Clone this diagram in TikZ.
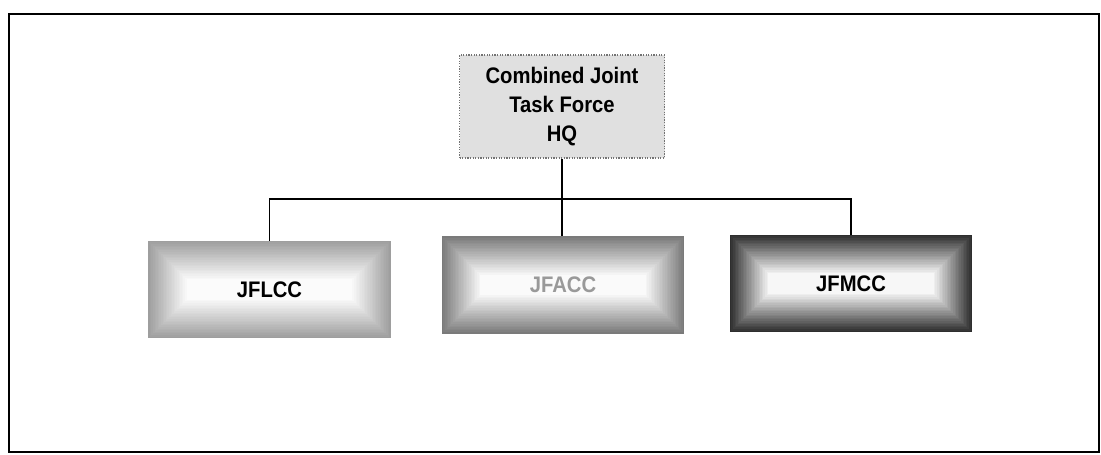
\documentclass[tikz,border=0pt]{standalone}
\usepackage{fontspec}
\setmainfont{Liberation Sans}[FakeStretch=0.9]
\usepackage{tikz}
\usetikzlibrary{backgrounds,positioning,calc}

\tikzset{
  cmdbox/.style={minimum width=60.5mm, minimum height=24.2mm, inner sep=0pt,
    font=\fontsize{16}{20.5}\selectfont\bfseries},
  hqbox/.style={draw=black!55, densely dotted, line width=0.3mm, fill=black!12,
    minimum width=51.25mm, minimum height=25.75mm, align=center, inner sep=0pt,
    font=\fontsize{16}{20.5}\selectfont\bfseries},
  link/.style={line width=0.45mm, black}
}

% box with a gradient from the edge colour to white
\newcommand{\fadefill}[2]{%
  \colorlet{edgecol}{#2}%
  \foreach \i [evaluate=\i as \p using {int(100-4*\i)}] in {0,...,24}
    \fill[edgecol!\p!white] ($(#1.south west)+(\i*0.4mm,\i*0.4mm)$)
      rectangle ($(#1.north east)+(-\i*0.4mm,-\i*0.4mm)$);
}

\begin{document}
\begin{tikzpicture}[x=0.25mm, y=-0.25mm]
  \useasboundingbox (0,0) rectangle (1101,454);
  \draw[line width=0.7mm] (9,14) rectangle (1099,452);

  % headquarters and the three component commands
  \node[hqbox] (hq) at (562,106.5) {Combined Joint\\Task Force\\HQ};
  \node[cmdbox] (jflcc) at (269.5,289.5) {JFLCC};
  \node[cmdbox, text=black!40] (jfacc) at (563,285) {JFACC};
  \node[cmdbox] (jfmcc) at (851,283.5) {JFMCC};

  \begin{scope}[on background layer]
    \fadefill{jflcc}{black!38}
    \fadefill{jfacc}{black!52}
    \fadefill{jfmcc}{black!82}
  \end{scope}

  \coordinate (bus) at (0,199);
  \draw[link] (hq.south) -- (hq.south |- jfacc.north);
  \draw[link] (jflcc.north) |- (jfmcc.north |- bus) -- (jfmcc.north);
\end{tikzpicture}
\end{document}
